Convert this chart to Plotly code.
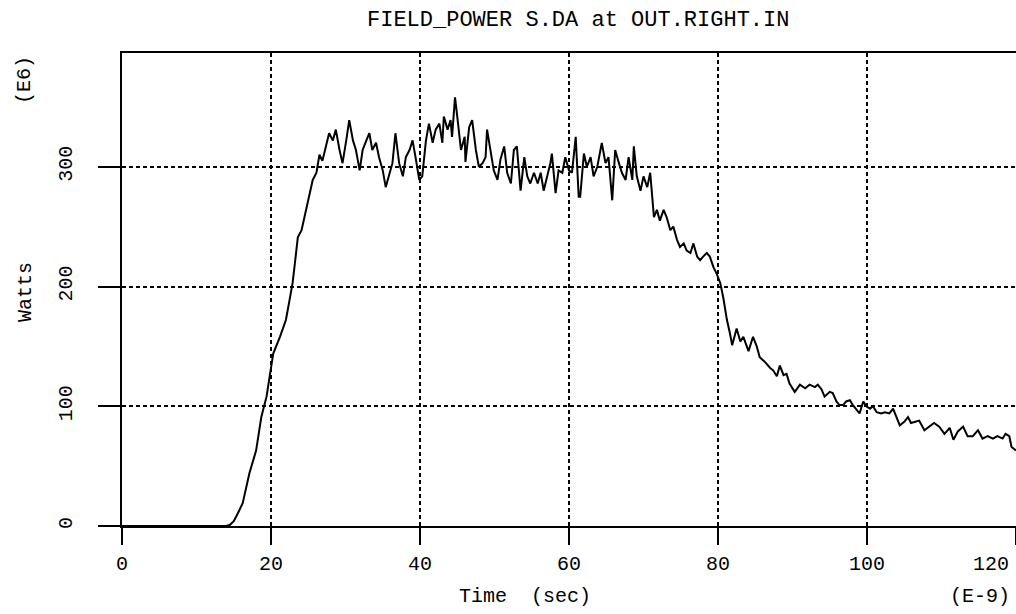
import plotly.graph_objects as go

# time in ns (E-9), power in MW (E6)
time_ns = [0, 14.0, 14.5, 15.0, 15.5, 16.2, 17.1, 18.0, 18.7, 19.4, 19.9, 20.3, 21.2, 22.0, 22.5, 22.9,
           23.2, 23.6, 24.1, 24.7, 25.2, 25.6, 26.1, 26.5, 26.9, 27.4, 27.8, 28.3, 28.7, 29.2, 29.6,
           30.1, 30.5, 31.0, 31.4, 31.9, 32.3, 32.8, 33.2, 33.6, 34.1, 34.5, 35.0, 35.4, 35.9, 36.3,
           36.7, 37.2, 37.7, 38.1, 38.6, 39.0, 39.4, 39.9, 40.3, 40.8, 41.2, 41.7, 42.1, 42.6, 43.0,
           43.2, 43.7, 44.1, 44.3, 44.7, 45.0, 45.5, 46.0, 46.1, 46.6, 47.0, 47.5, 47.9, 48.4, 48.8,
           49.0, 49.5, 49.9, 50.4, 50.8, 51.3, 51.7, 52.2, 52.6, 53.0, 53.5, 54.0, 54.4, 54.8, 55.3,
           55.8, 56.2, 56.6, 57.1, 57.5, 57.7, 58.2, 58.6, 59.1, 59.5, 60.0, 60.4, 60.9, 61.3, 61.5,
           62.0, 62.4, 62.9, 63.3, 63.8, 64.2, 64.4, 64.9, 65.3, 65.8, 66.2, 66.7, 67.1, 67.6, 68.0,
           68.5, 68.7, 69.1, 69.6, 70.0, 70.5, 70.9, 71.4, 71.8, 72.2, 72.7, 73.1, 73.6, 74.0, 74.5,
           74.9, 75.4, 75.8, 76.3, 76.7, 77.2, 77.6, 78.0, 78.5, 78.9, 79.4, 79.8, 80.3, 80.7, 81.2,
           81.6, 81.9, 82.5, 83.0, 83.4, 84.1, 84.7, 85.2, 85.6, 86.3, 87.0, 87.4, 87.9, 88.3, 88.8,
           89.2, 89.6, 90.3, 91.0, 91.7, 92.3, 93.0, 93.4, 93.9, 94.3, 95.0, 95.4, 95.9, 96.3, 96.8,
           97.2, 97.7, 98.1, 98.6, 99.0, 99.5, 99.9, 100.4, 100.8, 101.3, 101.9, 102.4, 103.0, 103.5,
           103.9, 104.4, 105.0, 105.5, 105.9, 106.6, 107.0, 107.7, 108.4, 109.0, 109.7, 110.4, 111.1,
           111.6, 112.2, 112.9, 113.5, 114.2, 114.9, 115.5, 116.2, 116.9, 117.5, 118.2, 118.6, 119.1,
           119.4, 120.0]
power_mw = [0, 0, 1, 4, 10, 19, 44, 63, 91, 108, 128, 144, 158, 172, 189, 203,
            219, 241, 247, 264, 278, 289, 295, 310, 305, 317, 328, 322, 331, 314, 303,
            322, 339, 322, 314, 297, 314, 322, 328, 314, 320, 308, 297, 283, 295, 303,
            328, 303, 292, 308, 314, 322, 308, 289, 292, 322, 336, 320, 331, 336, 320,
            342, 331, 339, 325, 358, 342, 314, 325, 304, 333, 339, 314, 300, 303, 308,
            331, 311, 297, 289, 306, 317, 295, 286, 314, 317, 280, 308, 292, 286, 295,
            286, 295, 280, 292, 303, 311, 278, 297, 295, 308, 297, 295, 325, 275, 275,
            311, 300, 308, 292, 300, 314, 320, 303, 308, 272, 314, 303, 295, 289, 308,
            289, 317, 292, 280, 292, 283, 295, 258, 264, 255, 264, 258, 247, 250, 239,
            233, 236, 230, 228, 236, 225, 222, 225, 228, 225, 216, 211, 203, 191, 172,
            161, 151, 165, 154, 158, 146, 158, 150, 141, 137, 132, 130, 125, 134, 126,
            127, 119, 112, 118, 115, 118, 116, 118, 114, 108, 112, 111, 104, 101, 101,
            104, 105, 101, 97, 94, 104, 100, 98, 100, 95, 94, 95, 94, 98,
            91, 84, 87, 91, 86, 87, 88, 80, 83, 86, 83, 77, 82,
            72, 79, 83, 75, 75, 80, 73, 75, 73, 75, 73, 77, 75,
            66, 63]

x_ticks = [0, 20, 40, 60, 80, 100, 120]
y_ticks = [0, 100, 200, 300]

FONT = "Liberation Mono"
L, R, T, B = 122, 1016, 53, 526


def px(x):
    return (x - L) / (R - L)


def py(y):
    return (B - y) / (B - T)


fig = go.Figure()
fig.add_trace(go.Scatter(x=time_ns, y=power_mw, mode='lines',
                         line=dict(color='black', width=2), showlegend=False))

fig.update_layout(
    width=1016, height=614,
    margin=dict(l=L, r=1016 - R, t=T, b=614 - B),
    paper_bgcolor='white', plot_bgcolor='white',
    font=dict(family=FONT, size=20, color='black'),
    xaxis=dict(range=[0, 120], tickvals=x_ticks, ticktext=[str(v) for v in x_ticks[:-1]] + [''],
               ticks='outside', ticklen=17, tickwidth=2,
               tickcolor='black', showline=True, linecolor='black', linewidth=2, mirror=True,
               showgrid=True, gridcolor='black', gridwidth=1.5, griddash='4px,3px',
               zeroline=False, ticklabelstandoff=1),
    yaxis=dict(range=[0, 395], tickvals=y_ticks, ticks='outside', ticklen=22, tickwidth=2,
               tickcolor='black', showline=True, linecolor='black', linewidth=2,
               showgrid=True, gridcolor='black', gridwidth=1.5, griddash='4px,3px',
               zeroline=False, tickangle=-90, ticklabelstandoff=18),
)

# last x tick label sits flush against the right edge
fig.add_annotation(text=str(x_ticks[-1]), x=x_ticks[-1], y=py(564), xref='x', yref='paper',
                   showarrow=False, xanchor='right', yanchor='middle', xshift=-5,
                   font=dict(family=FONT, size=20, color='black'))

notes = [
    ("FIELD_POWER S.DA at OUT.RIGHT.IN", 578, 20, 0, 22),
    ("Time  (sec)", 525, 596, 0, 20),
    ("(E-9)", 980, 596, 0, 20),
    ("Watts", 25, 292, -90, 20),
    ("(E6)", 25, 80, -90, 20),
]
for txt, x, y, ang, sz in notes:
    fig.add_annotation(text=txt, x=px(x), y=py(y), xref='paper', yref='paper',
                       showarrow=False, textangle=ang, xanchor='center', yanchor='middle',
                       font=dict(family=FONT, size=sz, color='black'))

fig.write_html("out.html", config={'displayModeBar': False},
               post_script="document.body.style.margin='0';document.body.style.overflow='hidden';")
